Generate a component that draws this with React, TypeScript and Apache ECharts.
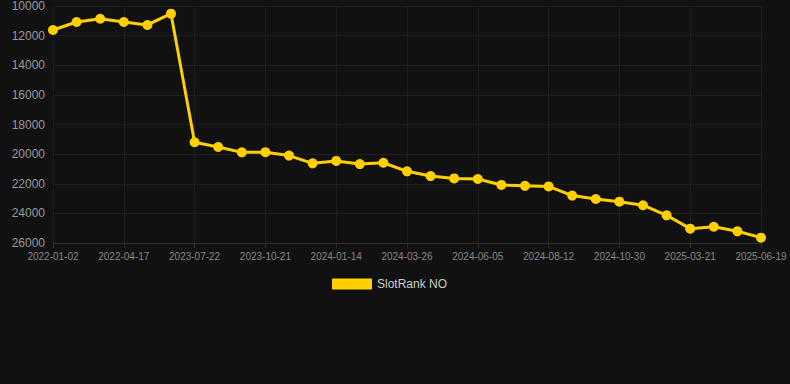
import React, { useEffect, useRef } from "react";
import * as echarts from "echarts";

const dates: string[] = [
  "2022-01-02", "2022-02-06", "2022-03-13", "2022-04-17", "2022-07-10", "2022-12-04",
  "2023-07-22", "2023-08-22", "2023-09-21", "2023-10-21", "2023-11-18", "2023-12-16",
  "2024-01-14", "2024-02-07", "2024-03-02", "2024-03-26", "2024-04-19", "2024-05-12",
  "2024-06-05", "2024-06-28", "2024-07-20", "2024-08-12", "2024-09-07", "2024-10-04",
  "2024-10-30", "2024-12-15", "2025-01-30", "2025-03-21", "2025-04-20", "2025-05-20",
  "2025-06-19",
];

const rankValues: number[] = [
  11620, 11080, 10860, 11080, 11280, 10520,
  19200, 19520, 19880, 19870, 20100, 20620,
  20460, 20670, 20580, 21160, 21480, 21640,
  21680, 22080, 22140, 22180, 22800, 23030,
  23210, 23450, 24130, 25030, 24900, 25210,
  25640,
];

const seriesName = "SlotRank NO";

export default function App() {
  const ref = useRef<HTMLDivElement>(null);
  useEffect(() => {
    if (!ref.current) return;
    const chart = echarts.init(ref.current, null, { renderer: "svg" });
    chart.setOption({
      animation: false,
      backgroundColor: "#111111",
      grid: { left: 53, right: 29, top: 6, bottom: 141, containLabel: false },
      legend: {
        data: [seriesName],
        top: 273,
        left: 327,
        itemWidth: 40,
        itemHeight: 11,
        itemGap: 10,
        icon: "rect",
        textStyle: { color: "#cccccc", fontSize: 12, fontFamily: "Liberation Sans, Arial, sans-serif" },
      },
      xAxis: {
        type: "category",
        data: dates,
        boundaryGap: false,
        axisLine: { show: true, lineStyle: { color: "#2e2e2e" } },
        axisTick: { show: true, interval: 2, lineStyle: { color: "#2e2e2e" } },
        axisLabel: {
          interval: 2,
          color: "#888888",
          fontSize: 10,
          margin: 8,
          fontFamily: "Liberation Sans, Arial, sans-serif",
        },
        splitLine: { show: true, interval: 2, lineStyle: { color: "#1e1e1e" } },
      },
      yAxis: {
        type: "value",
        inverse: true,
        min: 10000,
        max: 26000,
        interval: 2000,
        axisLine: { show: false },
        axisTick: { show: false },
        axisLabel: {
          color: "#999999",
          fontSize: 12,
          margin: 8,
          formatter: (v: number) => String(v),
          fontFamily: "Liberation Sans, Arial, sans-serif",
        },
        splitLine: { show: true, lineStyle: { color: "#1e1e1e" } },
      },
      series: [
        {
          name: seriesName,
          type: "line",
          data: rankValues,
          symbol: "circle",
          symbolSize: 10,
          itemStyle: { color: "#FFD000" },
          lineStyle: { color: "#FFD000", width: 3 },
        },
      ],
    });
    return () => chart.dispose();
  }, []);
  return (
    <div
      ref={ref}
      style={{ position: "fixed", left: 0, top: 0, width: 790, height: 384 }}
    />
  );
}
